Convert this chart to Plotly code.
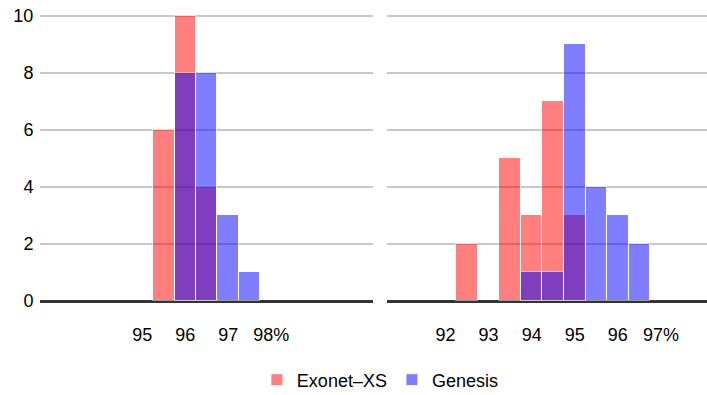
import plotly.graph_objects as go

# Left panel data (bin centers, bin width 0.5)
left_exonet_x = [95.5, 96.0, 96.5]
left_exonet_y = [6, 10, 4]
left_genesis_x = [96.0, 96.5, 97.0, 97.5]
left_genesis_y = [8, 8, 3, 1]

# Right panel data
right_exonet_x = [92.5, 93.5, 94.0, 94.5, 95.0]
right_exonet_y = [2, 5, 3, 7, 3]
right_genesis_x = [94.0, 94.5, 95.0, 95.5, 96.0, 96.5]
right_genesis_y = [1, 1, 9, 4, 3, 2]

left_tickvals = [95, 96, 97, 98]
left_ticktext = ["95", "96", "97", "98%"]
right_tickvals = [92, 93, 94, 95, 96, 97]
right_ticktext = ["92", "93", "94", "95", "96", "97%"]
y_tickvals = [0, 2, 4, 6, 8, 10]

bin_width = 0.5
RED = "rgb(255,0,0)"
BLUE = "rgb(0,0,255)"
FONT = "Liberation Sans, Arial, Helvetica, sans-serif"

fig = go.Figure()

def add_bar(x, y, color, name, xa, ya, show):
    fig.add_trace(go.Bar(
        x=x, y=y, width=[bin_width] * len(x), name=name,
        marker=dict(color=color, line=dict(color="white", width=1)),
        opacity=0.5, xaxis=xa, yaxis=ya, showlegend=show,
        legendgroup=name,
    ))

add_bar(left_exonet_x, left_exonet_y, RED, "Exonet–XS", "x", "y", True)
add_bar(left_genesis_x, left_genesis_y, BLUE, "Genesis", "x", "y", True)
add_bar(right_exonet_x, right_exonet_y, RED, "Exonet–XS", "x2", "y2", False)
add_bar(right_genesis_x, right_genesis_y, BLUE, "Genesis", "x2", "y2", False)

xcommon = dict(showgrid=False, zeroline=False, showline=False, automargin=False,
               ticks="outside", ticklen=17, tickcolor="rgba(0,0,0,0)",
               ticklabeloverflow="allow",
               tickfont=dict(size=18, color="black", family=FONT))
ycommon = dict(range=[0, 10.1], tickvals=y_tickvals, showgrid=True,
               gridcolor="#c8c8c8", gridwidth=2, zeroline=True,
               zerolinecolor="#333333", zerolinewidth=3, showline=False,
               automargin=False, ticklabeloverflow="allow",
               ticks="outside", ticklen=2, tickcolor="rgba(0,0,0,0)",
               tickfont=dict(size=18, color="black", family=FONT))

fig.update_layout(
    width=707, height=395,
    margin=dict(l=40, r=0, t=13, b=94),
    paper_bgcolor="white", plot_bgcolor="white",
    barmode="overlay", bargap=0,
    font=dict(family=FONT, size=18, color="black"),
    xaxis=dict(domain=[0, 0.4993], range=[92.62, 100.37],
               tickvals=left_tickvals, ticktext=left_ticktext, **xcommon),
    xaxis2=dict(domain=[0.5202, 1], range=[90.64, 98.07],
                tickvals=right_tickvals, ticktext=right_ticktext, **xcommon),
    yaxis=dict(anchor="x", **ycommon),
    yaxis2=dict(anchor="x2", matches="y", showticklabels=False, **{k: v for k, v in ycommon.items() if k not in ("range",)}),
    legend=dict(orientation="h", xref="container", yref="container",
                x=0.538, xanchor="center", y=0.038, yanchor="middle",
                font=dict(size=18, family=FONT), traceorder="normal"),
)

fig.write_html(
    "out.html",
    config={"displayModeBar": False},
    post_script="document.body.style.margin='0';document.body.style.overflow='hidden';",
)
